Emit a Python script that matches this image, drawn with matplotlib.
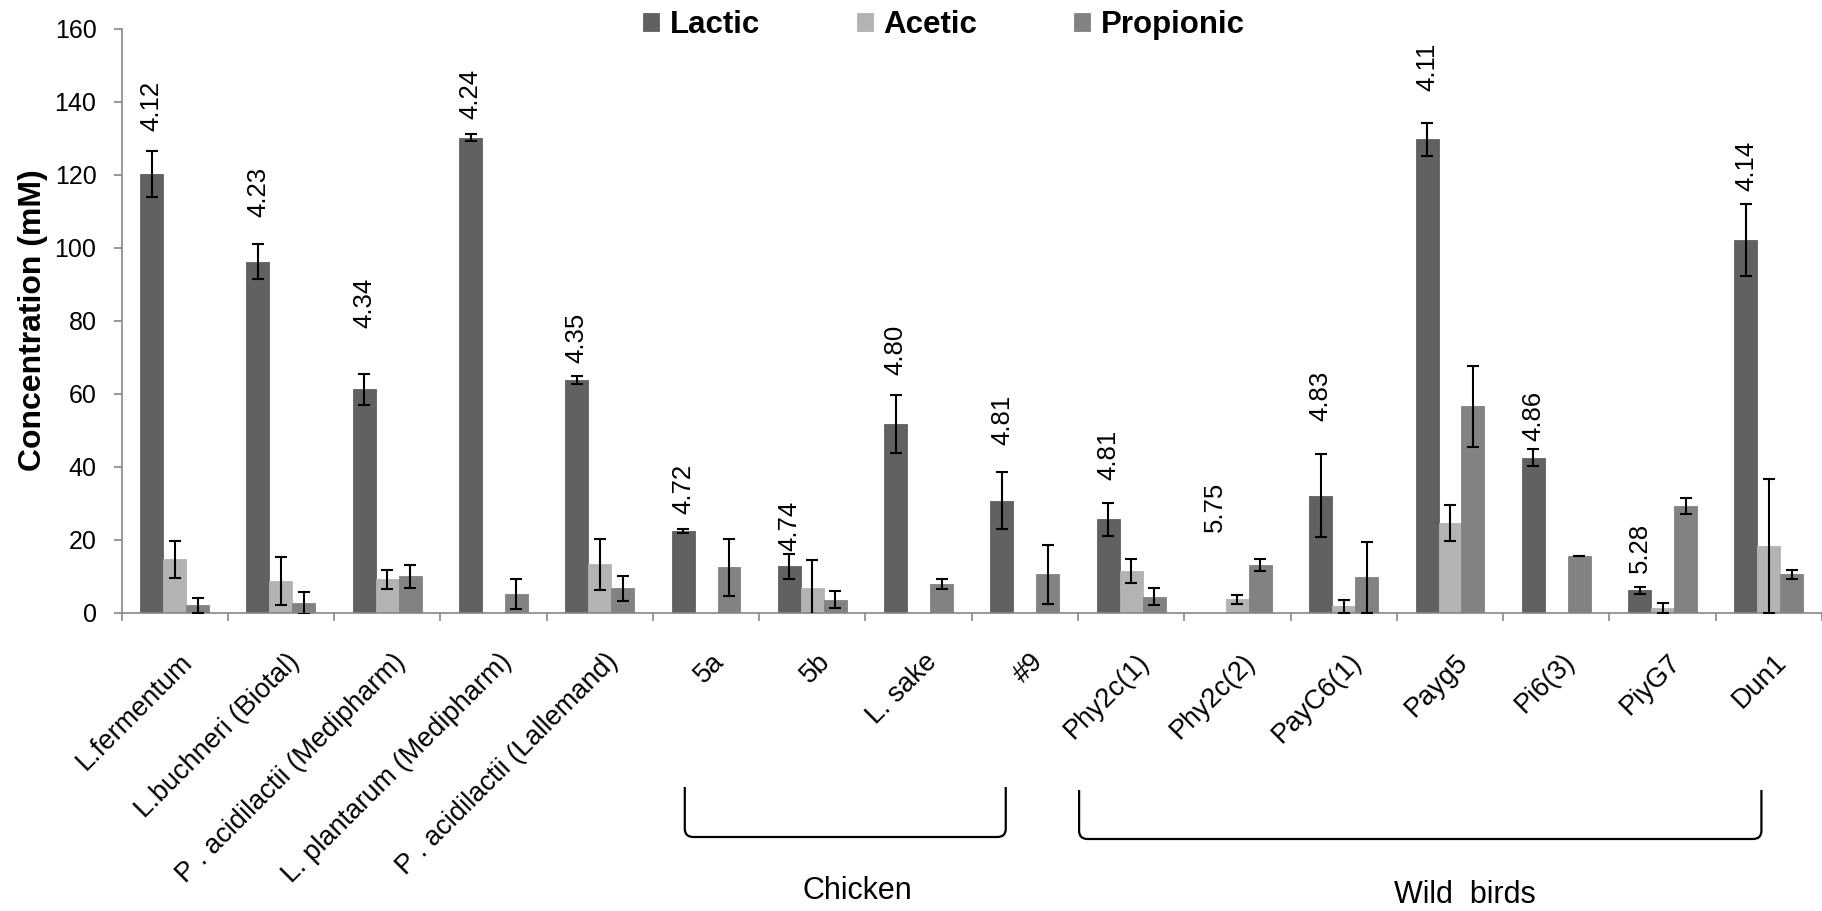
import numpy as np
import matplotlib
matplotlib.use("Agg")
import matplotlib.pyplot as plt
from matplotlib.path import Path
from matplotlib.patches import PathPatch
from matplotlib.transforms import blended_transform_factory, ScaledTranslation

plt.rcParams['font.family'] = ['Liberation Sans', 'DejaVu Sans']

# strains and organic acid concentrations (mM), mean and error
categories = ['L.fermentum', 'L.buchneri (Biotal)', 'P . acidilactii (Medipharm)',
              'L. plantarum (Medipharm)', 'P . acidilactii (Lallemand)',
              '5a', '5b', 'L. sake', '#9', 'Phy2c(1)', 'Phy2c(2)', 'PayC6(1)',
              'Payg5', 'Pi6(3)', 'PiyG7', 'Dun1']
lactic = [120.2, 96.1, 61.2, 130.1, 63.7, 22.3, 12.7, 51.6, 30.7, 25.6, 0, 32.0, 129.6, 42.5, 6.1, 102.1]
lactic_err = [6.3, 4.8, 4.2, 1.0, 1.0, 0.6, 3.5, 7.9, 7.7, 4.5, 0, 11.4, 4.4, 2.3, 1.0, 9.9]
acetic = [14.6, 8.7, 9.1, 0, 13.3, 0, 6.9, 0, 0, 11.4, 3.7, 1.7, 24.6, 0, 1.3, 18.3]
acetic_err = [5.0, 6.5, 2.5, 0, 7.0, 0, 7.4, 0, 0, 3.3, 1.2, 1.9, 5.0, 0, 1.3, 18.3]
propionic = [2.0, 2.7, 10.0, 5.1, 6.7, 12.5, 3.6, 7.9, 10.5, 4.4, 13.0, 9.7, 56.5, 15.5, 29.2, 10.5]
propionic_err = [2.1, 3.0, 3.1, 4.2, 3.4, 7.8, 2.4, 1.4, 8.1, 2.3, 1.6, 9.7, 11.0, 0.1, 2.2, 1.2]

# final pH of each culture, written above the lactic bar
ph = ['4.12', '4.23', '4.34', '4.24', '4.35', '4.72', '4.74', '4.80', '4.81',
      '4.81', '5.75', '4.83', '4.11', '4.86', '5.28', '4.14']
ph_y = [132, 108.5, 78, 135.3, 68.4, 27, 16.8, 65, 46, 36.3, 22.2, 52.5, 142.9, 47, 11, 115.5]

series = [('Lactic', lactic, lactic_err, '#616161'),
          ('Acetic', acetic, acetic_err, '#b3b3b3'),
          ('Propionic', propionic, propionic_err, '#828282')]

W, H = 1822, 911
fig = plt.figure(figsize=(W / 100, H / 100), dpi=100)
ax = fig.add_axes([121.5 / W, 1 - 612.7 / H, (W - 121.5) / W, (612.7 - 28.5) / H])

x = np.arange(len(categories))
bw = 0.216
handles = []
for k, (name, vals, errs, col) in enumerate(series):
    xs = x + (k - 1) * bw
    b = ax.bar(xs, vals, bw, color=col, edgecolor=col, linewidth=0.6, label=name, zorder=2)
    handles.append(b)
    vals = np.array(vals)
    errs = np.array(errs)
    m = errs > 0
    ax.errorbar(xs[m], vals[m], yerr=errs[m], fmt='none', ecolor='black',
                elinewidth=1.5, capsize=4.2, capthick=1.5, zorder=3)

for i, (lab, yy) in enumerate(zip(ph, ph_y)):
    ax.text(x[i] - bw, yy, lab, rotation=90, ha='center', va='bottom', fontsize=18.5)

ax.set_xlim(-0.5, len(categories) - 0.5)
ax.set_ylim(0, 160)
ax.set_yticks(np.arange(0, 161, 20))
ax.tick_params(axis='y', labelsize=18, direction='out', length=6, width=1.2, color='#868686', pad=12)
ax.set_xticks(x)
ax.set_xticklabels(categories, rotation=45, ha='right', rotation_mode='anchor', fontsize=19.5)
ax.tick_params(axis='x', which='major', length=0, pad=26)
ax.set_xticks(np.arange(-0.5, len(categories), 1), minor=True)
ax.tick_params(axis='x', which='minor', direction='out', length=6, width=1.2, color='#868686')
shift = ScaledTranslation(5 / 100, 0, fig.dpi_scale_trans)
for lbl in ax.get_xticklabels():
    lbl.set_transform(lbl.get_transform() + shift)

for s in ['top', 'right']:
    ax.spines[s].set_visible(False)
for s in ['left', 'bottom']:
    ax.spines[s].set_color('#868686')
    ax.spines[s].set_linewidth(1.2)

ax.set_ylabel('Concentration (mM)', fontsize=23, fontweight='bold')
ax.yaxis.set_label_coords(-0.043, 0.5)

fig.legend(handles=handles, loc='center left', bbox_to_anchor=(643 / W, 1 - 25 / H),
           ncol=3, frameon=False, prop={'weight': 'bold', 'size': 22.5},
           handlelength=0.52, handleheight=0.52, handletextpad=0.33,
           columnspacing=3.1, borderpad=0, borderaxespad=0)

# group brackets under the strain names
tr = blended_transform_factory(ax.transData, fig.transFigure)


def bracket(x0, x1, ytop, ybot, rx=0.08, ry=0.009):
    verts = [(x0, ytop), (x0, ybot + ry), (x0, ybot), (x0 + rx, ybot),
             (x1 - rx, ybot), (x1, ybot), (x1, ybot + ry), (x1, ytop)]
    codes = [Path.MOVETO, Path.LINETO, Path.CURVE3, Path.CURVE3,
             Path.LINETO, Path.CURVE3, Path.CURVE3, Path.LINETO]
    fig.add_artist(PathPatch(Path(verts, codes), transform=tr, fill=False,
                             lw=1.6, edgecolor='black', clip_on=False))


bracket(4.80, 7.82, 1 - 787 / H, 1 - 837 / H)
bracket(8.51, 14.93, 1 - 790 / H, 1 - 839 / H)
fig.text(6.42, 1 - 891 / H, 'Chicken', transform=tr, ha='center', va='center', fontsize=22)
fig.text(12.14, 1 - 895 / H, 'Wild  birds', transform=tr, ha='center', va='center', fontsize=22)

fig.savefig('out.png', dpi=100)
